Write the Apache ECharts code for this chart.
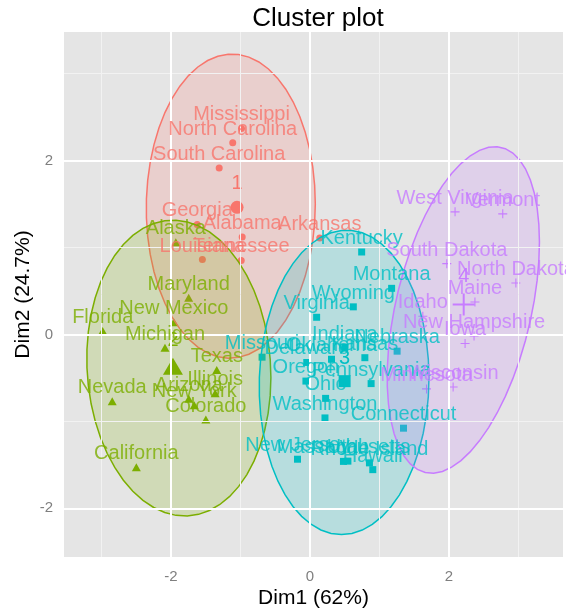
<!DOCTYPE html>
<html><head><meta charset="utf-8">
<script src="https://cdn.jsdelivr.net/npm/echarts@6/dist/echarts.min.js"></script>
<style>html,body{margin:0;padding:0;background:#fff}#c{width:566px;height:612px}</style>
</head><body><div id="c"></div>
<script>
const states = ["Alabama","Alaska","Arizona","Arkansas","California","Colorado","Connecticut","Delaware","Florida","Georgia","Hawaii","Idaho","Illinois","Indiana","Iowa","Kansas","Kentucky","Louisiana","Maine","Maryland","Massachusetts","Michigan","Minnesota","Mississippi","Missouri","Montana","Nebraska","Nevada","New Hampshire","New Jersey","New Mexico","New York","North Carolina","North Dakota","Ohio","Oklahoma","Oregon","Pennsylvania","Rhode Island","South Carolina","South Dakota","Tennessee","Texas","Utah","Vermont","Virginia","Washington","West Virginia","Wisconsin","Wyoming"];
const dim1 = [-0.976,-1.931,-1.745,0.140,-2.499,-1.499,1.345,-0.047,-2.983,-1.623,0.903,1.623,-1.365,0.500,2.231,0.789,0.743,-1.549,2.373,-1.746,0.481,-2.087,1.676,-0.986,-0.690,1.174,1.253,-2.846,2.360,-0.180,-1.960,-1.666,-1.112,2.962,0.224,0.309,-0.059,0.879,0.855,-1.307,1.968,-0.990,-1.342,0.545,2.773,0.095,0.215,2.087,2.059,0.623];
const dim2 = [1.122,1.062,-0.738,1.109,-1.527,-0.978,-1.078,-0.322,0.039,1.266,-1.555,0.209,-0.675,-0.150,-0.103,-0.267,0.949,0.862,0.373,0.423,-1.460,-0.154,-0.626,2.370,-0.261,0.531,-0.192,-0.768,-0.018,-1.435,0.141,-0.815,2.206,0.593,-0.735,-0.285,-0.536,-0.565,-1.477,1.914,0.815,0.852,-0.408,-1.457,1.388,0.198,-0.960,1.411,-0.605,0.318];
const cluster = [1,2,2,1,2,2,3,3,2,1,3,4,2,3,4,3,3,1,4,2,3,2,4,1,3,3,3,2,4,3,2,2,1,4,3,3,3,3,3,1,4,1,2,3,4,3,3,4,4,3];
const clusterNames = ["1","2","3","4"];
const clusterColors = ["#F8766D","#7CAE00","#00BFC4","#C77CFF"];
const xMajor = [-2,0,2];
const xMinor = [-3,-1,1,3];
const yMajor = [-2,0,2];
const yMinor = [-1,1,3];
const chartTitle = "Cluster plot";
const xTitle = "Dim1 (62%)";
const yTitle = "Dim2 (24.7%)";

const FONT = "Liberation Sans, Arial, Helvetica, sans-serif";
const PLUS = 'path://M0,4.4H10V5.6H0Z M4.4,0H5.6V10H4.4Z';
const PLUS_BIG = 'path://M0,4.55H10V5.45H0Z M4.55,0H5.45V10H4.55Z';
const symbols = ['circle','triangle','rect',PLUS];
const symbolSizes = [7,[9,8],7,9];
const bigSymbols = ['circle','triangle','rect',PLUS_BIG];
const bigSizes = [13,[20,17],12,22];

function covTrob(pts, nu, maxit, tol){
  nu = nu||5; maxit = maxit||25; tol = tol||0.01;
  const n = pts.length, p = 2;
  let loc = [pts.reduce((s,q)=>s+q[0],0)/n, pts.reduce((s,q)=>s+q[1],0)/n];
  let w = new Array(n).fill(1);
  let X;
  for (let it=0; it<maxit; it++){
    const w0 = w.slice();
    X = pts.map(q=>[q[0]-loc[0], q[1]-loc[1]]);
    const sw = w.reduce((a,b)=>a+b,0);
    let a=0,b=0,c=0;
    for (let i=0;i<n;i++){ a+=w[i]*X[i][0]*X[i][0]; b+=w[i]*X[i][0]*X[i][1]; c+=w[i]*X[i][1]*X[i][1]; }
    a/=sw; b/=sw; c/=sw;
    const det = a*c-b*b;
    const Q = X.map(v=>(c*v[0]*v[0]-2*b*v[0]*v[1]+a*v[1]*v[1])/det);
    w = Q.map(q=>(nu+p)/(nu+q));
    const sw2 = w.reduce((s,v)=>s+v,0);
    loc = [pts.reduce((s,q,i)=>s+w[i]*q[0],0)/sw2, pts.reduce((s,q,i)=>s+w[i]*q[1],0)/sw2];
    if (w.every((v,i)=>Math.abs(v-w0[i])<tol)) break;
  }
  let a=0,b=0,c=0;
  for (let i=0;i<n;i++){ a+=w[i]*X[i][0]*X[i][0]; b+=w[i]*X[i][0]*X[i][1]; c+=w[i]*X[i][1]*X[i][1]; }
  return {cov:[[a/n,b/n],[b/n,c/n]], center:loc};
}
function ellipsePts(pts, level, segs){
  level = level||0.95; segs = segs||51;
  const v = covTrob(pts);
  const d2 = pts.length-1;
  const qf = (d2/2)*(Math.pow(1-level,-2/d2)-1);
  const r = Math.sqrt(2*qf);
  const r11 = Math.sqrt(v.cov[0][0]), r12 = v.cov[0][1]/r11, r22 = Math.sqrt(v.cov[1][1]-r12*r12);
  const out = [];
  for (let t=0;t<=segs;t++){
    const ang = t*2*Math.PI/segs, co=Math.cos(ang), si=Math.sin(ang);
    out.push([v.center[0]+r*co*r11, v.center[1]+r*(co*r12+si*r22)]);
  }
  return out;
}

const groups = clusterNames.map((_,k)=>states.map((s,i)=>i).filter(i=>cluster[i]===k+1));
const groupPts = groups.map(g=>g.map(i=>[dim1[i],dim2[i]]));
const centers = groupPts.map(g=>[g.reduce((s,q)=>s+q[0],0)/g.length, g.reduce((s,q)=>s+q[1],0)/g.length]);
const ellipses = groupPts.map(g=>ellipsePts(g));

function hexA(hex,a){const n=parseInt(hex.slice(1),16);return `rgba(${n>>16},${(n>>8)&255},${n&255},${a})`;}

const series = [];
// grid lines
series.push({type:'scatter', data:[], z:1, silent:true,
  markLine:{silent:true, symbol:'none', label:{show:false}, animation:false,
    data:[
      ...xMinor.map(v=>({xAxis:v, lineStyle:{color:'#F2F2F2', width:1, type:'solid'}})),
      ...yMinor.map(v=>({yAxis:v, lineStyle:{color:'#F2F2F2', width:1, type:'solid'}})),
      ...xMajor.map(v=>({xAxis:v, lineStyle:{color:'#FFFFFF', width:2, type:'solid'}})),
      ...yMajor.map(v=>({yAxis:v, lineStyle:{color:'#FFFFFF', width:2, type:'solid'}}))
    ]}});
// points
clusterNames.forEach((nm,k)=>{
  series.push({type:'scatter', z:2, symbol:symbols[k], symbolSize:symbolSizes[k],
    itemStyle:{color:clusterColors[k], opacity:1},
    data: groups[k].map(i=>[dim1[i],dim2[i]])});
});
// ellipses
series.push({type:'custom', z:3, coordinateSystem:'cartesian2d', silent:true,
  data: centers.map(c=>[c[0],c[1]]),
  renderItem:(params,api)=>{
    const k = params.dataIndex;
    return {type:'polygon', shape:{points: ellipses[k].map(p=>api.coord(p))},
      style:{fill:hexA(clusterColors[k],0.2), stroke:clusterColors[k], lineWidth:1.5}};
  }});
// centers
clusterNames.forEach((nm,k)=>{
  series.push({type:'scatter', z:4, symbol:bigSymbols[k], symbolSize:bigSizes[k],
    itemStyle:{color:clusterColors[k], opacity:1},
    label:{show:true, position:'top', distance:7, formatter:nm, color:clusterColors[k], fontSize:20, fontFamily:FONT},
    data:[centers[k]]});
});
// labels
clusterNames.forEach((nm,k)=>{
  series.push({type:'scatter', z:5, symbol:'circle', symbolSize:1, itemStyle:{color:'rgba(0,0,0,0)'},
    label:{show:true, position:'top', distance:3, formatter:p=>p.data[2], color:clusterColors[k], fontSize:20, fontFamily:FONT},
    labelLayout:{hideOverlap:false},
    data: groups[k].map(i=>[dim1[i],dim2[i],states[i]])});
});

const chart = echarts.init(document.getElementById('c'), null, {renderer:'canvas'});
chart.setOption({
  animation:false,
  backgroundColor:'#FFFFFF',
  title:{text:chartTitle, left:313, top:1, textAlign:'center', textStyle:{fontSize:26, fontWeight:'normal', color:'#000', fontFamily:FONT}},
  grid:{left:64, right:3, top:32, bottom:55, show:true, backgroundColor:'#E5E5E5', borderWidth:0, containLabel:false, outerBoundsMode:'none'},
  xAxis:{type:'value', min:-3.54, max:3.64,
    splitLine:{show:false}, axisLine:{show:false},
    axisTick:{show:true, customValues:xMajor, length:7, lineStyle:{color:'#666666', width:1}},
    axisLabel:{customValues:xMajor, color:'#7F7F7F', fontSize:15, margin:12, fontFamily:FONT},
    name:xTitle, nameLocation:'middle', nameGap:31, nameMoveOverlap:false, nameTextStyle:{fontSize:21, color:'#000', fontFamily:FONT}},
  yAxis:{type:'value', min:-2.56, max:3.48,
    splitLine:{show:false}, axisLine:{show:false},
    axisTick:{show:true, customValues:yMajor, length:7, lineStyle:{color:'#666666', width:1}},
    axisLabel:{customValues:yMajor, color:'#7F7F7F', fontSize:15, margin:11, fontFamily:FONT},
    name:yTitle, nameLocation:'middle', nameGap:30, nameMoveOverlap:false, nameTextStyle:{fontSize:21, color:'#000', fontFamily:FONT}},
  series
});
</script></body></html>
